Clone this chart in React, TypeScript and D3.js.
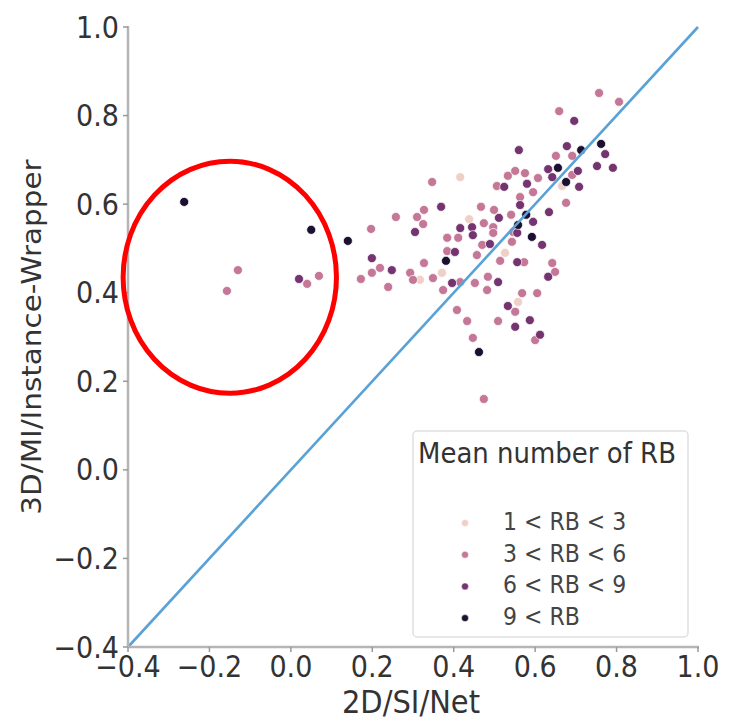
import React from "react";
import * as d3 from "d3";

// ---- data ----
const xTicks = [-0.4, -0.2, 0.0, 0.2, 0.4, 0.6, 0.8, 1.0];
const yTicks = [-0.4, -0.2, 0.0, 0.2, 0.4, 0.6, 0.8, 1.0];
const groupLabels = ["1 < RB < 3", "3 < RB < 6", "6 < RB < 9", "9 < RB"];
const groupColors = ["#efcfc6", "#c47797", "#743470", "#1b1030"];

const rb1to3: [number, number][] = [
  [0.416, 0.661], [0.438, 0.566], [0.526, 0.49], [0.317, 0.429], [0.371, 0.445], [0.558, 0.379], [0.666, 0.641],
];
const rb3to6: [number, number][] = [
  [-0.13, 0.451], [-0.157, 0.404], [0.04, 0.42], [0.069, 0.438], [0.197, 0.544], [0.258, 0.571], [0.31, 0.571],
  [0.325, 0.555], [0.327, 0.587], [0.347, 0.65], [0.551, 0.675], [0.575, 0.67], [0.533, 0.664], [0.607, 0.659],
  [0.506, 0.641], [0.595, 0.627], [0.563, 0.616], [0.467, 0.594], [0.499, 0.587], [0.474, 0.557], [0.541, 0.576],
  [0.497, 0.548], [0.384, 0.524], [0.411, 0.524], [0.497, 0.535], [0.546, 0.537], [0.47, 0.508], [0.543, 0.515],
  [0.384, 0.494], [0.457, 0.485], [0.514, 0.472], [0.573, 0.469], [0.642, 0.467], [0.649, 0.447], [0.219, 0.456],
  [0.199, 0.445], [0.172, 0.431], [0.239, 0.413], [0.327, 0.467], [0.293, 0.445], [0.3, 0.429], [0.349, 0.433],
  [0.374, 0.406], [0.416, 0.424], [0.452, 0.422], [0.484, 0.436], [0.482, 0.406], [0.568, 0.399], [0.605, 0.399],
  [0.551, 0.357], [0.408, 0.361], [0.433, 0.336], [0.509, 0.336], [0.6, 0.293], [0.447, 0.298], [0.474, 0.16],
  [0.757, 0.851], [0.806, 0.831], [0.659, 0.81], [0.651, 0.709], [0.691, 0.709], [0.691, 0.666], [0.676, 0.603],
];
const rb6to9: [number, number][] = [
  [0.02, 0.431], [0.305, 0.537], [0.369, 0.594], [0.56, 0.722], [0.524, 0.639], [0.58, 0.646], [0.563, 0.598],
  [0.511, 0.569], [0.595, 0.56], [0.445, 0.548], [0.416, 0.546], [0.447, 0.53], [0.556, 0.535], [0.617, 0.508],
  [0.489, 0.51], [0.403, 0.492], [0.556, 0.469], [0.632, 0.436], [0.199, 0.478], [0.248, 0.451], [0.396, 0.422],
  [0.509, 0.424], [0.533, 0.37], [0.587, 0.338], [0.551, 0.323], [0.612, 0.305], [0.696, 0.788], [0.678, 0.731],
  [0.772, 0.713], [0.752, 0.686], [0.791, 0.682], [0.632, 0.679], [0.705, 0.675], [0.642, 0.661], [0.708, 0.639],
  [0.634, 0.582],
];
const rb9plus: [number, number][] = [
  [-0.262, 0.605], [0.05, 0.542], [0.14, 0.517], [0.578, 0.576], [0.558, 0.553], [0.592, 0.526], [0.381, 0.472],
  [0.462, 0.266], [0.713, 0.722], [0.762, 0.736], [0.656, 0.682], [0.676, 0.65],
];
const groups = [rb1to3, rb3to6, rb6to9, rb9plus];
const diagonal: [number, number][] = [[-0.4, -0.4], [1.0, 1.0]];
const highlight = { cx: -0.15, cy: 0.435, r: 0.262 };

const W = 729, H = 721;
const L = 128, R = 698, T = 27, B = 647;
const SY = 1.09; // vertical text stretch seen in reference

const fmt = (v: number) => (v < 0 ? "\u2212" : "") + Math.abs(v).toFixed(1);

function Txt({ x, y, size, anchor = "start", fill = "#333", rotate = 0, children }: any) {
  const sc = rotate !== 0 ? `scale(${SY},1)` : `scale(1,${SY})`;
  return (
    <text
      transform={`translate(${x},${y}) rotate(${rotate}) ${sc}`}
      fontSize={size}
      textAnchor={anchor}
      fill={fill}
      fontFamily="DejaVu Sans, sans-serif"
    >
      {children}
    </text>
  );
}

export default function App() {
  const x = d3.scaleLinear().domain([-0.4, 1.0]).range([L, R]);
  const y = d3.scaleLinear().domain([-0.4, 1.0]).range([B, T]);
  const line = d3.line<[number, number]>().x((d) => x(d[0])).y((d) => y(d[1]));

  return (
    <svg width={W} height={H} style={{ position: "absolute", left: 0, top: 0, background: "#fff" }}>
      {/* points */}
      {groups.map((g, gi) =>
        g.map((p, i) => (
          <circle key={`${gi}-${i}`} cx={x(p[0])} cy={y(p[1])} r={4.5} fill={groupColors[gi]} stroke="#fff" strokeWidth={0.7} />
        ))
      )}
      {/* diagonal */}
      <path d={line(diagonal) || ""} stroke="#5aa2d6" strokeWidth={2.6} fill="none" />
      {/* spines */}
      <line x1={L} x2={L} y1={T - 1} y2={B} stroke="#b5b5b5" strokeWidth={2.5} />
      <line x1={L} x2={R + 1} y1={B} y2={B} stroke="#b5b5b5" strokeWidth={2.5} />
      {/* x ticks */}
      {xTicks.map((t) => (
        <g key={`xt${t}`}>
          <line x1={x(t)} x2={x(t)} y1={B} y2={B + 5} stroke="#999" strokeWidth={1.5} />
          <Txt x={x(t)} y={677} size={27} anchor="middle">{fmt(t)}</Txt>
        </g>
      ))}
      {/* y ticks */}
      {yTicks.map((t) => (
        <g key={`yt${t}`}>
          <line x1={L - 5} x2={L} y1={y(t)} y2={y(t)} stroke="#999" strokeWidth={1.5} />
          <Txt x={119} y={y(t) + 10.5} size={27} anchor="end">{fmt(t)}</Txt>
        </g>
      ))}
      {/* axis labels */}
      <Txt x={(L + R) / 2 - 2} y={713} size={29} anchor="middle">2D/SI/Net</Txt>
      <Txt x={41} y={(T + B) / 2} size={27} anchor="middle" rotate={-90}>3D/MI/Instance-Wrapper</Txt>
      {/* highlight ellipse */}
      <ellipse
        cx={x(highlight.cx)}
        cy={y(highlight.cy)}
        rx={x(highlight.cx + highlight.r) - x(highlight.cx)}
        ry={y(highlight.cy) - y(highlight.cy + highlight.r)}
        fill="none"
        stroke="#ff0000"
        strokeWidth={5}
      />
      {/* legend */}
      <rect x={413} y={431} width={275} height={206} rx={4} fill="#fff" stroke="#e0e0e0" strokeWidth={1.5} />
      <Txt x={418} y={463} size={26} fill="#333">Mean number of RB</Txt>
      {groupLabels.map((lab, i) => (
        <g key={lab}>
          <circle cx={465} cy={523 + i * 31.7} r={3.5} fill={groupColors[i]} stroke="#fff" strokeWidth={0.5} />
          <Txt x={503} y={530 + i * 31.7} size={22} fill="#444">{lab}</Txt>
        </g>
      ))}
    </svg>
  );
}
